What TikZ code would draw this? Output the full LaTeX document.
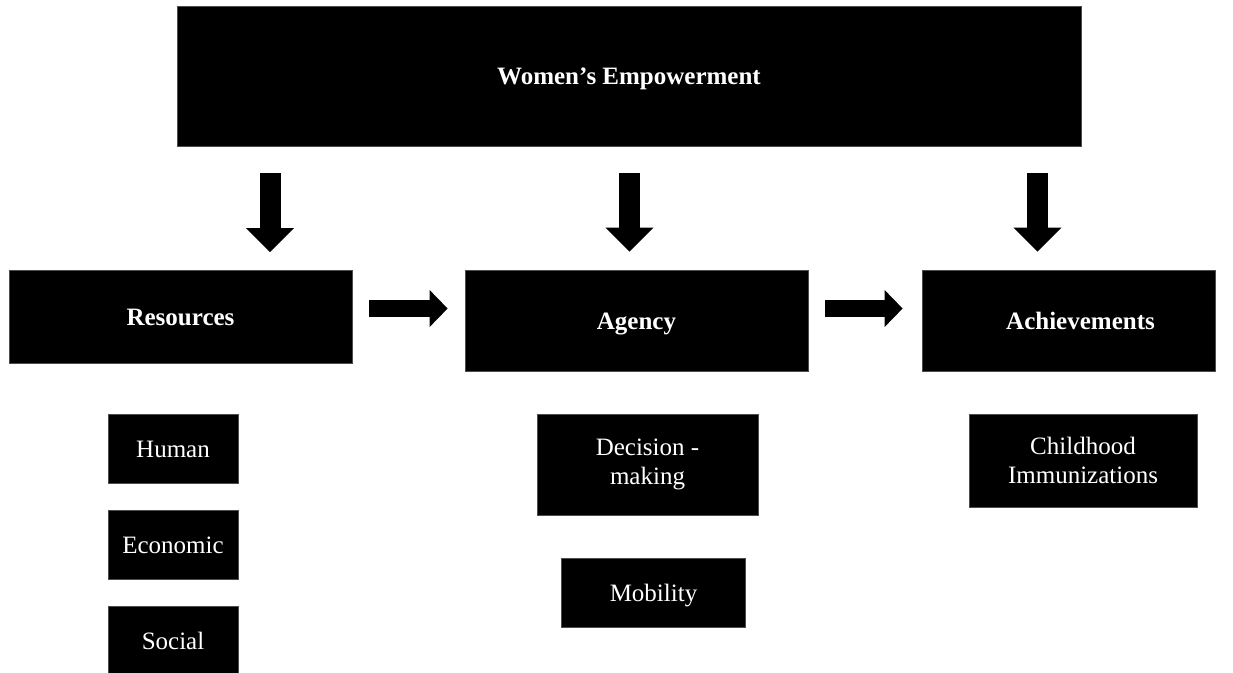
\documentclass[tikz,border=0pt]{standalone}
\usepackage{fontspec}
\setmainfont{Liberation Serif}
\usetikzlibrary{arrows.meta}

\tikzset{
  box/.style={fill=black, draw=black!70, line width=0.8pt, text=white,
    inner sep=0pt, align=center,
    font=\fontsize{25}{29}\selectfont},
  oneline/.style={text height=17pt, text depth=0pt},
  headbox/.style={box, oneline, font=\fontsize{25}{29}\selectfont\bfseries},
  downarrow/.style={line width=21pt,
    -{Triangle[width=48pt,length=24pt,line width=0pt]}},
  rightarrow/.style={line width=17pt,
    -{Triangle[width=37pt,length=18pt,line width=0pt]}},
}

\begin{document}
\begin{tikzpicture}[x=1pt, y=-1pt]
  \clip (0,0) rectangle (1233,672);
  \fill[white] (0,0) rectangle (1233,672);

  % top level
  \node[headbox, minimum width=904pt, minimum height=140pt] (emp) at (629,76)
    {Women’s Empowerment};

  % three domains
  \node[headbox, minimum width=343pt, minimum height=93pt]  (res) at (180.5,317) {Resources};
  \node[headbox, minimum width=343pt, minimum height=101pt] (agc) at (636.5,320.5) {Agency};
  \node[headbox, minimum width=293pt, minimum height=101pt] (ach) at (1068.5,320.5)
    {\hspace*{24pt}Achievements};

  % indicators
  \node[box, oneline, minimum width=130pt, minimum height=69pt] (hum) at (173,449) {Human};
  \node[box, oneline, minimum width=130pt, minimum height=69pt] (eco) at (173,545) {Economic};
  \node[box, oneline, minimum width=130pt, minimum height=69pt] (soc) at (173,641) {Social};
  \node[box, minimum width=221pt, minimum height=101pt] (dec) at (647.5,464.5) {Decision -\\making};
  \node[box, oneline, minimum width=184pt, minimum height=69pt] (mob) at (653.5,592.5) {Mobility};
  \node[box, minimum width=228pt, minimum height=93pt] (imm) at (1083,460.5) {Childhood\\Immunizations};

  % arrow axes
  \coordinate (d1) at (270,0);
  \coordinate (d2) at (629.5,0);
  \coordinate (d3) at (1037.5,0);
  \coordinate (h)  at (0,308.5);

  % block arrows from the top box to each domain
  \draw[downarrow, shorten <=27pt, shorten >=18pt] (emp.south -| d1) -- (res.north -| d1);
  \draw[downarrow, shorten <=27pt, shorten >=18pt] (emp.south -| d2) -- (agc.north -| d2);
  \draw[downarrow, shorten <=27pt, shorten >=18pt] (emp.south -| d3) -- (ach.north -| d3);

  % block arrows between domains
  \draw[rightarrow, shorten <=17pt, shorten >=17pt] (res.east |- h) -- (agc.west |- h);
  \draw[rightarrow, shorten <=17pt, shorten >=19pt] (agc.east |- h) -- (ach.west |- h);
\end{tikzpicture}
\end{document}
